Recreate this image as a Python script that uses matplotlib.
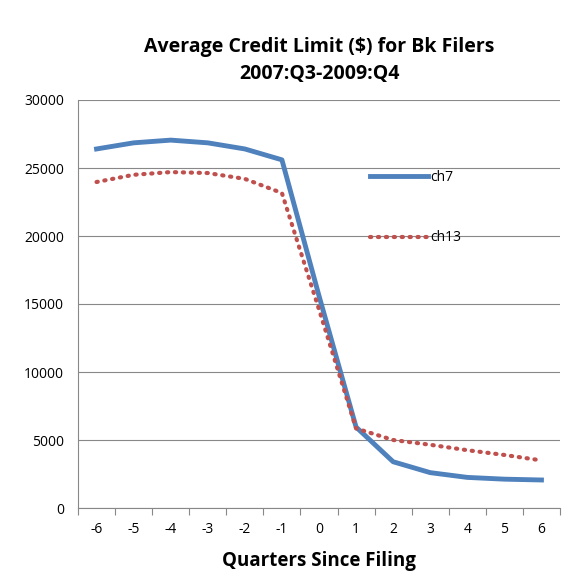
import matplotlib.pyplot as plt
import numpy as np

quarters = [-6, -5, -4, -3, -2, -1, 0, 1, 2, 3, 4, 5, 6]
ch7 = [26400, 26850, 27050, 26850, 26400, 25600, 15600, 5950, 3400, 2600, 2250, 2120, 2060]
ch13 = [23970, 24500, 24700, 24630, 24200, 23160, 14600, 5850, 5000, 4650, 4250, 3900, 3500]

plt.rcParams['font.family'] = ['Open Sans', 'DejaVu Sans']
fig = plt.figure(figsize=(5.68, 5.88), dpi=100)
ax = fig.add_axes([78/568, 80/588, 482/568, 408/588])

ax.plot(quarters, ch7, color='#4F81BD', linewidth=3.5, label='ch7')
ax.plot(quarters, ch13, color='#C0504D', linewidth=3, linestyle=(0, (0.3, 1.6)),
        dash_capstyle='round', label='ch13')

ax.set_xlim(-6.5, 6.5)
ax.set_ylim(0, 30000)
ax.set_yticks(range(0, 30001, 5000))
ax.set_xticks(np.arange(-6.5, 6.6, 1))
ax.set_xticklabels([])
ax.set_xticks(quarters, minor=True)
ax.set_xticklabels([str(q) for q in quarters], minor=True)
ax.tick_params(axis='x', which='minor', length=0, pad=10, labelsize=10)
ax.tick_params(axis='x', which='major', length=5, color='#888888')
ax.tick_params(axis='y', length=0, labelsize=10, pad=10)
ax.grid(axis='y', color='#888888', linewidth=0.8)
ax.set_axisbelow(True)
for s in ['top', 'right']:
    ax.spines[s].set_visible(False)
ax.spines['left'].set_color('#888888')
ax.spines['bottom'].set_color('#888888')

ax.set_xlabel('Quarters Since Filing', fontsize=13.5, fontweight='bold', labelpad=10)
ax.set_title('Average Credit Limit ($) for Bk Filers\n2007:Q3-2009:Q4', fontsize=14,
             fontweight='bold', pad=15, linespacing=1.5)

ax.legend(loc='upper left', bbox_to_anchor=(0.58, 0.86), frameon=False, fontsize=10,
          handlelength=4.2, labelspacing=3.3, handletextpad=0.1)

fig.savefig('out.png')
